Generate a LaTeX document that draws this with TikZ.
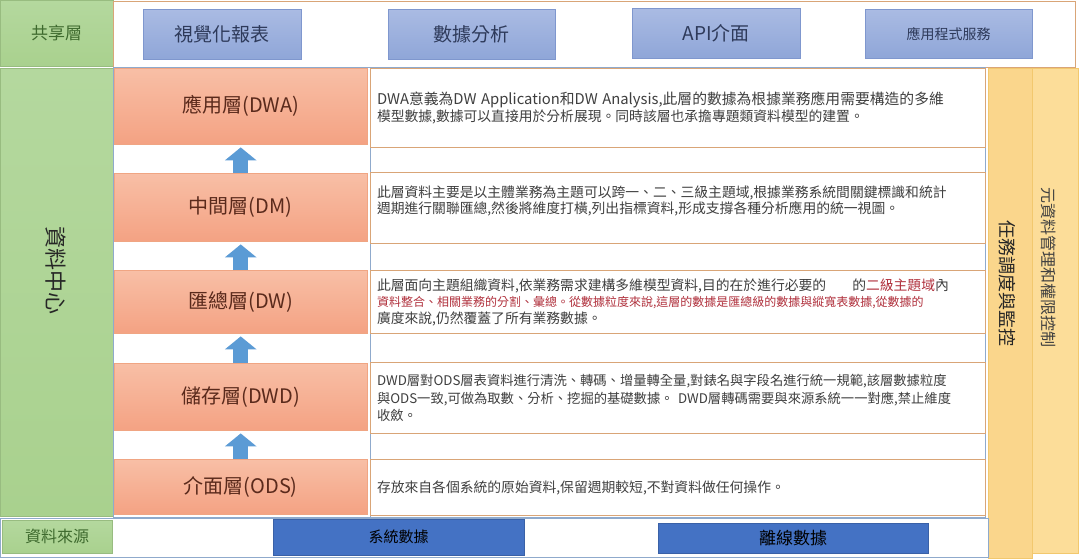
\documentclass[tikz,border=0pt]{standalone}
\usepackage{fontspec}
\setmainfont{Noto Sans CJK TC}
\usetikzlibrary{arrows.meta,positioning}

\definecolor{greenfill}{HTML}{A9D18E}
\definecolor{greentop}{HTML}{B4D89E}
\definecolor{greentext}{HTML}{3E6A2E}
\definecolor{bluetop}{HTML}{AABBE3}
\definecolor{bluebottom}{HTML}{8FA6D8}
\definecolor{blueline}{HTML}{7F97CE}
\definecolor{bluetext}{HTML}{2E3A5A}
\definecolor{darkblue}{HTML}{4472C4}
\definecolor{orangetop}{HTML}{F8BFA6}
\definecolor{orangebottom}{HTML}{F4A283}
\definecolor{orangeline}{HTML}{F0A583}
\definecolor{browntext}{HTML}{5A2A1C}
\definecolor{descline}{HTML}{D9A577}
\definecolor{desctext}{HTML}{3F3F3F}
\definecolor{redtext}{HTML}{B0303C}
\definecolor{panelline}{HTML}{8FAACC}
\definecolor{yellowfill}{HTML}{FAD68C}
\definecolor{yellowlight}{HTML}{FCDD99}
\definecolor{yellowline}{HTML}{F2C86E}
\definecolor{arrowblue}{HTML}{5B9BD5}

\tikzset{
    box/.style={
                anchor=north west,
                inner sep=0pt
            },
    greenbox/.style={
                box,
                top color=greentop,
                bottom color=greenfill,
                draw=greenfill!90!black,
                thin,
                text=greentext
            },
    sharebox/.style={
                box,
                top color=bluetop,
                bottom color=bluebottom,
                draw=blueline,
                thin,
                text=bluetext,
                font=\fontsize{19}{22}\selectfont
            },
    layerbox/.style={
                box,
                top color=orangetop,
                bottom color=orangebottom,
                draw=orangeline,
                thin,
                minimum width=253pt,
                text=browntext,
                font=\fontsize{20}{24}\selectfont
            },
    descbox/.style={
                box,
                fill=white,
                draw=descline,
                line width=1pt,
                minimum width=615pt,
                text width=602pt,
                align=left,
                text=desctext,
                font=\fontsize{13.8}{16.5}\selectfont
            },
    sourcebox/.style={
                box,
                fill=darkblue,
                draw=darkblue!85!black,
                thin,
                text=black
            },
    sidebar/.style={
                box,
                draw=yellowline,
                thin
            },
    uparrow/.style={
                draw=arrowblue,
                line width=15pt,
                -{Triangle[width=31pt,length=13pt]},
                shorten >=3pt
            }
}

\begin{document}
\begin{tikzpicture}[x=1pt,y=-1pt]
\useasboundingbox (0,0) rectangle (1080,558);

% Shared layer
\node[greenbox, minimum width=113pt, minimum height=66pt, font=\fontsize{17}{20}\selectfont] (share) at (0,0) {共享層};
\node[box, draw=descline, line width=1pt, fill=white, minimum width=962pt, minimum height=66pt] (sharepanel) at (113,1) {};
\node[sharebox, minimum width=158pt, minimum height=50pt] (report) at (143,9) {視覺化報表};
\node[sharebox, minimum width=167pt, minimum height=50pt] (analysis) at (388,9) {數據分析};
\node[sharebox, minimum width=168pt, minimum height=50pt] (api) at (632,8) {API介面};
\node[sharebox, minimum width=167pt, minimum height=49pt, font=\fontsize{14}{17}\selectfont] (service) at (865,9) {應用程式服務};

% Data center
\node[greenbox, minimum width=113pt, minimum height=448pt] (center) at (0,68) {};
\node[rotate=-90, font=\fontsize{22}{24}\selectfont, text=black!85] (centertext) at (56,270) {資料中心};
\node[box, fill=white, draw=panelline, thin, minimum width=257pt, minimum height=450pt] (layerpanel) at (113,67) {};
\node[box, fill=white, draw=panelline, thin, minimum width=615pt, minimum height=450pt] (descpanel) at (370,67) {};

% Layers
\node[layerbox, minimum height=76pt] (dwa) at (114,68) {應用層(DWA)};
\node[layerbox, minimum height=68pt] (dm) at (114,173) {中間層(DM)};
\node[layerbox, minimum height=63pt] (dw) at (114,270) {匯總層(DW)};
\node[layerbox, minimum height=67pt] (dwd) at (114,363) {儲存層(DWD)};
\node[layerbox, minimum height=55pt] (ods) at (114,459) {介面層(ODS)};

\draw[uparrow] (dm.north) -- (dwa.south);
\draw[uparrow] (dw.north) -- (dm.south);
\draw[uparrow] (dwd.north) -- (dw.south);
\draw[uparrow] (ods.north) -- (dwd.south);

% Descriptions
\node[descbox, minimum height=79pt] (dwadesc) at (370,68) {%
    {\fontsize{14.8}{16.5}\selectfont DWA意義為DW Application和DW Analysis,此層的數據為根據業務應用需要構造的多維}\\
    模型數據,數據可以直接用於分析展現。同時該層也承擔專題類資料模型的建置。};
\node[descbox, minimum height=71pt] (dmdesc) at (370,172) {%
    此層資料主要是以主體業務為主題可以跨一、二、三級主題域,根據業務系統間關鍵標識和統計\\
    週期進行關聯匯總,然後將維度打橫,列出指標資料,形成支撐各種分析應用的統一視圖。\\
    \mbox{}};
\node[descbox, minimum height=63pt] (dwdesc) at (370,270) {%
    此層面向主題組織資料,依業務需求建構多維模型資料,目的在於進行必要的\hspace{26pt}的\textcolor{redtext}{二級主題域}內\\
    {\fontsize{12}{16.5}\selectfont\color{redtext}資料整合、相關業務的分割、彙總。從數據粒度來說,這層的數據是匯總級的數據與縱寬表數據,從數據的}\\
    廣度來說,仍然覆蓋了所有業務數據。};
\node[descbox, minimum height=71pt, font=\fontsize{13.3}{17.5}\selectfont] (dwddesc) at (370,362) {%
    DWD層對ODS層表資料進行清洗、轉碼、增量轉全量,對錶名與字段名進行統一規範,該層數據粒度\\
    與ODS一致,可做為取數、分析、挖掘的基礎數據。 DWD層轉碼需要與來源系統一一對應,禁止維度\\
    收斂。};
\node[descbox, minimum height=56pt] (odsdesc) at (370,459) {%
    存放來自各個系統的原始資料,保留週期較短,不對資料做任何操作。};

% Side bars
\node[sidebar, fill=yellowfill, minimum width=44pt, minimum height=490pt] (task) at (988,68) {};
\node[rotate=-90, font=\fontsize{18}{20}\selectfont, text=black!85] (tasktext) at (1007,283) {任務調度與監控};
\node[sidebar, fill=yellowlight, minimum width=46pt, minimum height=485pt] (meta) at (1032,68) {};
\node[rotate=-90, font=\fontsize{16}{18}\selectfont, text=black!75] (metatext) at (1049,267) {元資料管理和權限控制};

% Data sources
\node[box, fill=white, draw=panelline, thin, minimum width=988pt, minimum height=39pt] (sourcepanel) at (0,518) {};
\node[greenbox, minimum width=110pt, minimum height=33pt, font=\fontsize{16}{18}\selectfont] (source) at (2,520) {資料來源};
\node[sourcebox, minimum width=251pt, minimum height=36pt, font=\fontsize{15}{17}\selectfont] (system) at (273,519) {系統數據};
\node[sourcebox, minimum width=270pt, minimum height=30pt, font=\fontsize{17}{19}\selectfont] (offline) at (658,523) {離線數據};
\end{tikzpicture}
\end{document}
